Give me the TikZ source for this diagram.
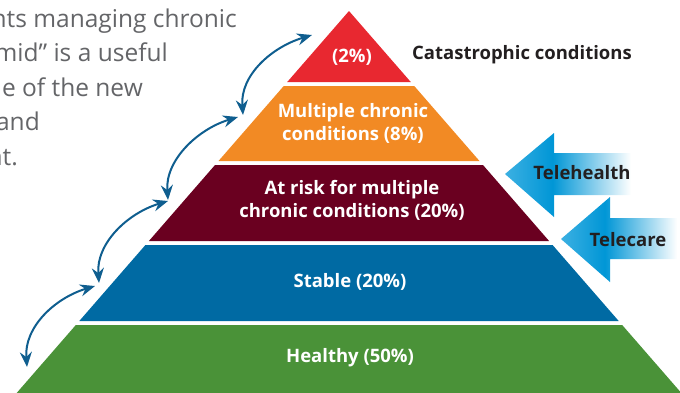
\documentclass[tikz,border=0pt]{standalone}
\usepackage{fontspec}
\setmainfont{Open Sans}
\usetikzlibrary{arrows.meta,shapes,positioning}

\definecolor{topred}{RGB}{232,40,48}
\definecolor{chronorange}{RGB}{242,138,36}
\definecolor{riskmaroon}{RGB}{106,0,32}
\definecolor{stableblue}{RGB}{0,106,163}
\definecolor{healthgreen}{RGB}{74,146,56}
\definecolor{swingblue}{RGB}{15,94,143}
\definecolor{telecyan}{RGB}{0,150,214}
\definecolor{telelight}{RGB}{60,176,226}
\definecolor{greytext}{RGB}{100,101,104}
\definecolor{darktext}{RGB}{35,31,32}

\pgfdeclarehorizontalshading{telefade}{100bp}{color(0bp)=(telelight); color(25bp)=(telelight); color(42bp)=(telecyan); color(70bp)=(white); color(100bp)=(white)}

\newcommand{\Layer}[3]{\fill[#3] ({349-0.87*(#1-11)},#1) -- ({349+0.87*(#1-11)},#1) -- ({349+0.87*(#2-11)},#2) -- ({349-0.87*(#2-11)},#2) -- cycle;}

\tikzset{
  layertext/.style={text=white,font=\bfseries\fontsize{18.5}{23}\selectfont,align=center},
  sidetext/.style={text=darktext,font=\bfseries\fontsize{18.5}{22}\selectfont},
  bodytext/.style={text=greytext,font=\fontsize{24.5}{28}\selectfont,anchor=base east,inner sep=0pt},
  swing/.style={draw=swingblue,line width=2pt,{Stealth[length=15pt,width=12pt,inset=5pt]}-{Stealth[length=15pt,width=12pt,inset=5pt]}},
  fadearrow/.style={shading=telefade}
}

\begin{document}
\begin{tikzpicture}[x=1pt,y=-1pt]
\useasboundingbox (0,0) rectangle (680,392);

\node[bodytext] (line1) at (237,27) {nts managing chronic};
\node[bodytext] (line2) at (168,61) {mid” is a useful};
\node[bodytext] (line3) at (143,96) {e of the new};
\node[bodytext] (line4) at (40,130) {and};
\node[bodytext] (line5) at (18,165) {nt.};

\Layer{11}{82}{topred}
\Layer{86}{161}{chronorange}
\Layer{165}{241}{riskmaroon}
\Layer{245}{321}{stableblue}
\Layer{325}{400}{healthgreen}

\node[layertext] (cat) at (352,57) {(2\%)};
\node[layertext] (multi) at (353,123) {Multiple chronic\\conditions (8\%)};
\node[layertext] (risk) at (352,200) {At risk for multiple\\chronic conditions (20\%)};
\node[layertext] (stable) at (350,282) {Stable (20\%)};
\node[layertext] (healthy) at (350,358) {Healthy (50\%)};

\node[sidetext] (catlabel) at (522,55) {Catastrophic conditions};

\shade[fadearrow] (505,174) -- (554,133) -- (554,153) -- (645,153) -- (645,195) -- (554,195) -- (554,217) -- cycle;
\shade[fadearrow] (561,239) -- (610,197) -- (610,218) -- (690,218) -- (690,259) -- (610,259) -- (610,282) -- cycle;
\node[sidetext] (health) at (582,173) {Telehealth};
\node[sidetext] (care) at (628,240) {Telecare};

\coordinate (a1) at (243,115);
\coordinate (b1) at (312,35);
\coordinate (a2) at (168,200);
\coordinate (b2) at (238,117);
\coordinate (a3) at (99,283);
\coordinate (b3) at (168,201);
\coordinate (a4) at (27,367);
\coordinate (b4) at (95,286);

\draw[swing] (a1) .. controls +(-3,-40) and +(-40,12) .. (b1);
\draw[swing] (a2) .. controls +(-3,-40) and +(-40,12) .. (b2);
\draw[swing] (a3) .. controls +(-3,-40) and +(-40,12) .. (b3);
\draw[swing] (a4) .. controls +(-3,-40) and +(-40,12) .. (b4);

\end{tikzpicture}
\end{document}
